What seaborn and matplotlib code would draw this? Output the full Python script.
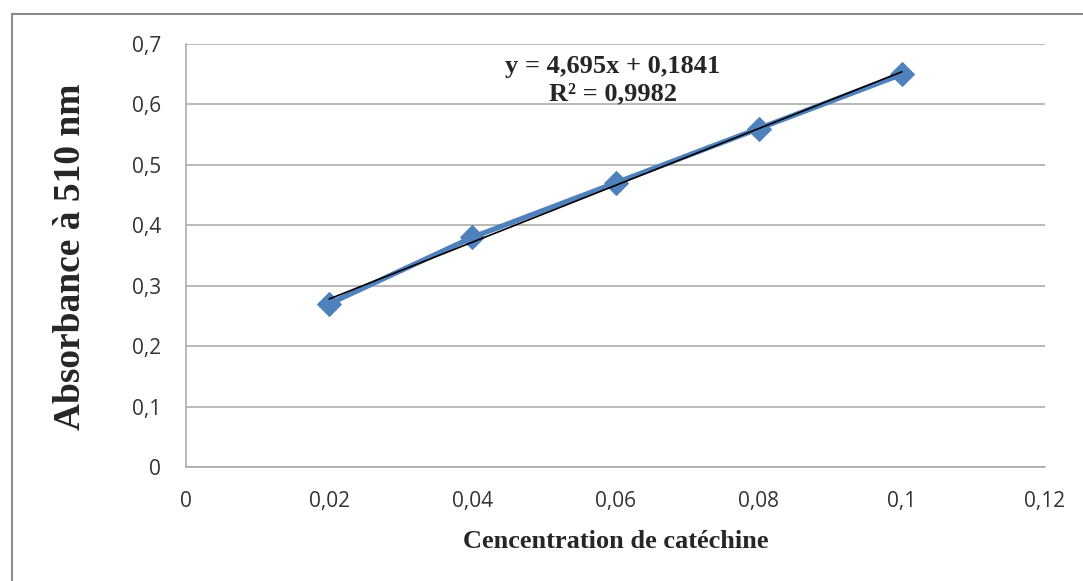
import numpy as np
import pandas as pd
import matplotlib
matplotlib.use("Agg")
import matplotlib.pyplot as plt
import seaborn as sns
from matplotlib.patches import Rectangle
from matplotlib.ticker import FuncFormatter

# donnees de la courbe d'etalonnage
concentration = [0.02, 0.04, 0.06, 0.08, 0.1]
absorbance = [0.27, 0.38, 0.47, 0.56, 0.65]
equation = "y = 4,695x + 0,1841"
r2_texte = "R² = 0,9982"
x_ticks = [0, 0.02, 0.04, 0.06, 0.08, 0.1, 0.12]
y_ticks = [0, 0.1, 0.2, 0.3, 0.4, 0.5, 0.6, 0.7]

df = pd.DataFrame({"conc": concentration, "abs": absorbance})

sns.set_style("white")
plt.rcParams["font.family"] = ["Open Sans", "DejaVu Sans"]

fig = plt.figure(figsize=(10.83, 5.81), dpi=100)
# cadre exterieur (coupe a droite et en bas)
fig.patches.append(Rectangle((12 / 1083, -0.1), 1.2, 1 - 14 / 581 + 0.1,
                             transform=fig.transFigure, fill=False,
                             edgecolor="#8c8c8c", linewidth=1.5))
ax = fig.add_axes([186 / 1083, 1 - 467 / 581, 859 / 1083, 423 / 581])

sns.lineplot(data=df, x="conc", y="abs", ax=ax, color="#4F81BD", linewidth=3.8,
             marker="D", markersize=12, markeredgecolor="#4F81BD", zorder=3)

# droite de regression lineaire
pente, ordonnee = np.polyfit(concentration, absorbance, 1)
x_fit = np.array([concentration[0], concentration[-1]])
sns.lineplot(x=x_fit, y=pente * x_fit + ordonnee, ax=ax, color="black",
             linewidth=1.2, zorder=4)

ax.set_xlim(0, 0.12)
ax.set_ylim(0, 0.7)
ax.set_xticks(x_ticks)
ax.set_yticks(y_ticks)
virgule = FuncFormatter(lambda v, p: ("%g" % round(v, 3)).replace(".", ","))
ax.xaxis.set_major_formatter(virgule)
ax.yaxis.set_major_formatter(virgule)
ax.tick_params(axis="both", length=0, labelsize=15, colors="#333333")
ax.tick_params(axis="x", pad=17)
ax.tick_params(axis="y", pad=18)

ax.yaxis.grid(True, color="#a6a6a6", linewidth=1.1)
ax.xaxis.grid(False)
for s in ["top", "right"]:
    ax.spines[s].set_visible(False)
for s in ["left", "bottom"]:
    ax.spines[s].set_color("#a6a6a6")
    ax.spines[s].set_linewidth(1.1)

ax.set_xlabel("Cencentration de catéchine", family="Liberation Serif",
              fontweight="bold", fontsize=19)
ax.set_ylabel("Absorbance à 510 nm", family="Liberation Serif",
              fontweight="bold", fontsize=27)
ax.xaxis.set_label_coords(0.5, -0.148)
ax.yaxis.set_label_coords(-0.114, 0.497)

ax.text(0.0596, 0.663, equation, family="Liberation Serif", fontweight="bold",
        fontsize=19, ha="center", va="center")
ax.text(0.0596, 0.617, r2_texte, family="Liberation Serif", fontweight="bold",
        fontsize=19, ha="center", va="center")

fig.savefig("out.png", dpi=100)
